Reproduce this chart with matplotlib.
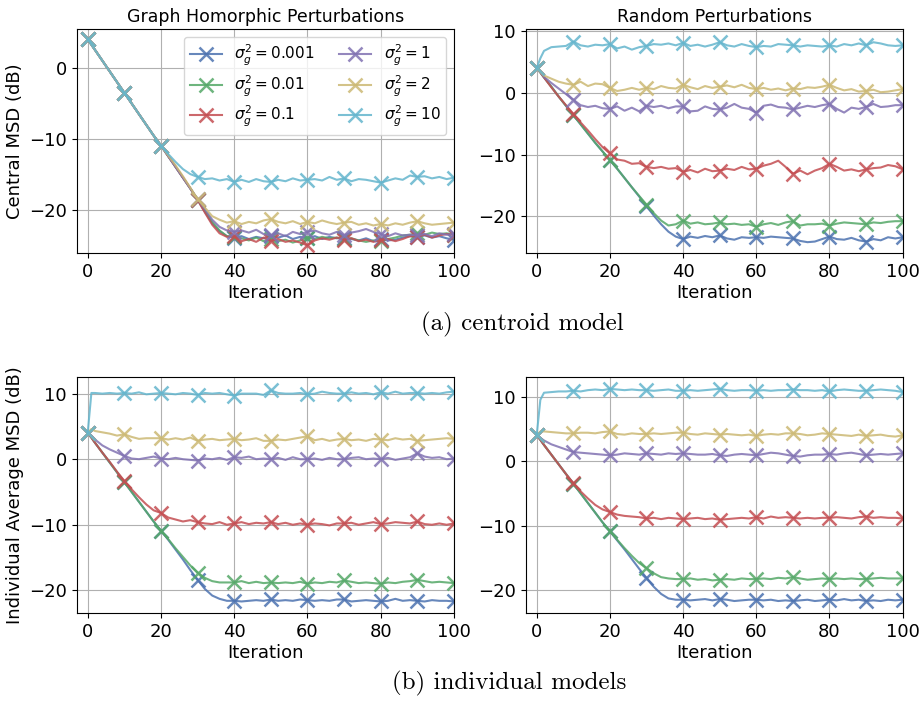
import matplotlib
matplotlib.use("Agg")
import matplotlib.pyplot as plt
import numpy as np

# iterations: 0, 1, then every 2 up to 100
iterations = [0, 1] + list(range(2, 101, 2))

labels = [r"$\sigma_g^2 = 0.001$", r"$\sigma_g^2 = 0.01$", r"$\sigma_g^2 = 0.1$",
          r"$\sigma_g^2 = 1$", r"$\sigma_g^2 = 2$", r"$\sigma_g^2 = 10$"]
colors = ["#4C72B0", "#55A868", "#C44E52", "#8172B2", "#CCB974", "#64B5CD"]

# ---------- (a) centroid model, graph homorphic perturbations ----------
gh_c_0001 = [4.0, 3.25,
             2.5, 1.0, -0.5, -2.0, -3.5,
             -5.0, -6.5, -8.0, -9.5, -10.9,
             -12.4, -13.9, -15.4, -16.9, -18.5,
             -20.2, -21.8, -22.9, -23.6, -23.8,
             -23.6, -24.0, -23.7, -23.9, -23.6,
             -23.8, -23.5, -24.0, -23.7, -23.9,
             -23.6, -24.0, -23.7, -23.9, -23.8,
             -24.0, -24.2, -23.9, -24.3, -24.0,
             -24.2, -24.1, -23.8, -23.6, -23.7,
             -23.5, -23.8, -23.6, -23.9, -24.1]
gh_c_001 = [4.0, 3.25,
            2.5, 1.0, -0.5, -2.0, -3.5,
            -5.0, -6.5, -8.0, -9.5, -10.9,
            -12.4, -13.9, -15.4, -16.9, -18.5,
            -20.0, -21.6, -22.8, -23.6, -23.7,
            -23.9, -24.2, -23.8, -24.3, -24.0,
            -24.3, -24.1, -24.5, -24.2, -23.8,
            -24.0, -23.7, -23.9, -23.8, -24.0,
            -23.9, -24.2, -24.4, -24.2, -24.3,
            -24.0, -23.8, -23.5, -23.4, -23.2,
            -23.4, -23.1, -23.3, -23.2, -23.4]
gh_c_01 = [4.0, 3.25,
           2.5, 1.0, -0.5, -2.0, -3.5,
           -5.0, -6.5, -8.0, -9.5, -10.9,
           -12.4, -13.9, -15.4, -16.9, -18.5,
           -20.3, -22.0, -23.2, -23.7, -23.6,
           -24.3, -24.0, -24.4, -23.8, -24.3,
           -24.0, -24.4, -24.2, -24.5, -24.9,
           -24.2, -23.9, -24.1, -23.8, -24.1,
           -23.9, -24.3, -24.1, -24.4, -24.2,
           -24.0, -24.3, -24.0, -23.6, -23.7,
           -23.4, -23.8, -23.5, -23.3, -23.4]
gh_c_1 = [4.0, 3.25,
          2.5, 1.0, -0.5, -2.0, -3.5,
          -5.0, -6.5, -8.0, -9.5, -10.9,
          -12.4, -13.9, -15.4, -16.9, -18.4,
          -19.8, -21.3, -22.3, -22.8, -23.0,
          -22.8, -23.1, -22.7, -23.3, -23.5,
          -23.2, -23.6, -23.0, -23.3, -23.0,
          -22.8, -23.2, -23.4, -23.0, -23.5,
          -23.1, -22.9, -22.6, -23.0, -23.3,
          -23.6, -23.2, -23.5, -23.4, -23.5,
          -23.3, -23.6, -23.2, -23.4, -23.3]
gh_c_2 = [4.0, 3.25,
          2.5, 1.0, -0.5, -2.0, -3.5,
          -5.0, -6.5, -8.0, -9.5, -10.9,
          -12.3, -13.7, -15.2, -16.8, -18.4,
          -19.6, -20.8, -21.3, -21.7, -21.5,
          -21.9, -21.6, -21.8, -21.4, -21.2,
          -21.6, -21.8, -21.5, -21.9, -21.6,
          -21.8, -21.4, -21.7, -21.9, -21.7,
          -21.6, -22.0, -21.8, -22.1, -21.9,
          -22.1, -21.8, -22.0, -21.7, -21.5,
          -21.8, -22.0, -21.9, -21.8, -21.7]
gh_c_10 = [4.0, 3.25,
           2.5, 1.0, -0.5, -2.0, -3.5,
           -5.0, -6.5, -8.0, -9.5, -10.9,
           -12.1, -13.2, -14.2, -14.9, -15.3,
           -15.6, -15.5, -15.8, -15.6, -16.0,
           -15.7, -16.0, -15.6, -15.9, -16.0,
           -15.7, -15.9, -15.5, -15.8, -15.7,
           -15.6, -15.8, -15.3, -15.7, -15.5,
           -15.9, -15.6, -15.7, -15.9, -16.1,
           -15.8, -15.5, -15.7, -15.1, -15.3,
           -15.2, -15.5, -15.3, -15.6, -15.4]

# ---------- (a) centroid model, random perturbations ----------
rp_c_0001 = [4.0, 3.3,
             2.5, 1.0, -0.6, -2.1, -3.6,
             -5.1, -6.6, -8.1, -9.5, -10.9,
             -12.3, -13.8, -15.3, -16.8, -18.3,
             -19.9, -21.3, -22.5, -23.3, -23.7,
             -23.3, -23.5, -23.2, -23.4, -23.1,
             -23.6, -23.8, -23.4, -23.5, -23.4,
             -23.5, -23.3, -23.4, -23.5, -23.6,
             -24.0, -24.2, -24.1, -23.7, -23.3,
             -23.7, -23.8, -23.5, -23.9, -24.1,
             -23.7, -23.9, -23.4, -23.6, -23.4]
rp_c_001 = [4.0, 3.3,
            2.5, 1.0, -0.6, -2.1, -3.6,
            -5.1, -6.6, -8.1, -9.5, -10.9,
            -12.3, -13.8, -15.3, -16.7, -18.1,
            -19.5, -20.7, -21.5, -21.3, -20.7,
            -21.2, -21.0, -21.3, -21.2, -21.0,
            -21.3, -21.2, -21.4, -21.3, -21.7,
            -21.3, -21.1, -21.4, -21.0, -20.8,
            -21.5, -21.3, -21.3, -21.2, -21.5,
            -21.2, -21.0, -21.1, -21.2, -21.3,
            -21.0, -21.1, -20.9, -20.8, -20.8]
rp_c_01 = [4.0, 3.3,
           2.5, 0.9, -0.6, -2.0, -3.4,
           -4.8, -6.1, -7.5, -8.8, -9.8,
           -10.8, -11.0, -11.5, -11.4, -12.0,
           -12.2, -12.0, -12.3, -12.2, -12.8,
           -12.5, -12.9, -12.3, -12.7, -12.6,
           -12.3, -12.5, -12.0, -12.4, -12.3,
           -11.8, -11.5, -11.0, -12.0, -13.1,
           -12.6, -13.2, -12.6, -12.2, -11.5,
           -12.0, -12.6, -12.4, -12.7, -12.4,
           -12.2, -12.1, -11.7, -11.9, -12.4]
rp_c_1 = [4.0, 3.4,
          2.6, 1.6, 0.7, -0.2, -1.1,
          -2.0, -2.3, -2.1, -2.5, -2.6,
          -2.2, -2.9, -2.4, -3.0, -2.1,
          -2.3, -2.1, -2.5, -2.2, -2.2,
          -3.0, -2.9, -2.2, -2.6, -2.7,
          -2.4, -1.8, -2.4, -2.6, -3.2,
          -2.1, -1.9, -2.3, -2.4, -2.7,
          -2.4, -2.1, -2.3, -2.0, -1.8,
          -2.6, -3.2, -2.4, -2.6, -2.3,
          -1.8, -2.3, -2.2, -2.0, -2.0]
rp_c_2 = [4.0, 3.4,
          2.8, 2.3, 1.8, 1.5, 1.3,
          1.8, 1.1, 1.5, 1.4, 0.8,
          0.3, 0.5, 0.8, 0.5, 0.8,
          0.6, 1.1, 0.8, 0.7, 1.3,
          0.9, 0.6, 1.1, 0.8, 1.0,
          1.2, 0.9, 1.3, 0.8, 0.6,
          0.8, 0.5, 0.7, 0.4, 0.7,
          0.6, 0.9, 0.8, 1.0, 1.3,
          0.8, 0.4, 0.6, 0.2, 0.3,
          0.5, 0.1, 0.2, 0.4, 0.6]
rp_c_10 = [4.0, 5.6,
           6.8, 7.4, 7.5, 7.6, 8.3,
           7.7, 7.5, 7.8, 7.7, 7.9,
           7.2, 7.5, 7.0, 7.4, 7.6,
           7.9, 7.8, 8.0, 7.7, 8.1,
           7.6, 7.8, 7.5, 7.8, 8.2,
           7.7, 7.5, 7.9, 7.6, 7.4,
           7.6, 7.5, 7.9, 7.8, 7.7,
           7.5, 7.7, 7.6, 7.5, 7.7,
           7.5, 7.9, 7.7, 8.0, 7.7,
           8.2, 8.0, 7.7, 7.6, 7.7]

# ---------- (b) individual models, graph homorphic perturbations ----------
gh_i_0001 = [4.0, 3.3,
             2.5, 1.0, -0.5, -2.0, -3.5,
             -5.0, -6.5, -8.0, -9.5, -10.9,
             -12.3, -13.8, -15.3, -16.9, -18.4,
             -19.8, -20.8, -21.3, -21.6, -21.6,
             -21.7, -21.6, -21.5, -21.6, -21.4,
             -21.6, -21.5, -21.6, -21.4, -21.5,
             -21.6, -21.5, -21.6, -21.4, -21.4,
             -21.7, -21.6, -21.5, -21.6, -21.7,
             -21.6, -21.3, -21.6, -21.5, -21.6,
             -21.7, -21.5, -21.6, -21.6, -21.7]
gh_i_001 = [4.0, 3.3,
            2.5, 1.0, -0.5, -2.0, -3.5,
            -5.0, -6.5, -8.0, -9.5, -10.9,
            -12.2, -13.6, -14.9, -16.2, -17.3,
            -18.1, -18.6, -18.8, -18.8, -18.8,
            -18.6, -18.9, -18.7, -18.9, -18.8,
            -18.9, -18.8, -18.9, -18.7, -19.0,
            -18.8, -18.9, -18.7, -18.8, -18.5,
            -18.7, -18.9, -18.8, -18.9, -19.0,
            -18.8, -18.9, -18.7, -18.6, -18.4,
            -18.6, -18.8, -18.7, -18.8, -18.9]
gh_i_01 = [4.0, 3.3,
           2.5, 1.0, -0.4, -1.9, -3.3,
           -4.6, -5.8, -6.9, -7.8, -8.2,
           -8.9, -9.2, -9.5, -9.3, -9.6,
           -9.8, -9.9, -9.6, -10.0, -9.8,
           -9.6, -9.9, -9.7, -9.8, -9.6,
           -9.9, -9.7, -10.0, -9.8, -10.0,
           -9.8, -9.9, -10.1, -9.8, -9.8,
           -9.7, -10.0, -9.8, -9.6, -9.9,
           -9.8, -9.6, -9.7, -9.8, -9.5,
           -9.9, -10.0, -9.8, -10.0, -9.8]
gh_i_1 = [4.0, 3.6,
          3.0, 2.1, 1.5, 1.0, 0.5,
          0.1, 0.0, 0.2, 0.4, 0.1,
          0.0, 0.2, 0.0, -0.1, -0.2,
          0.1, 0.0, 0.2, -0.1, 0.3,
          0.2, 0.4, 0.0, 0.1, 0.0,
          0.2, -0.1, 0.3, 0.0, 0.0,
          0.1, -0.1, 0.2, 0.0, 0.0,
          0.2, 0.3, 0.0, 0.1, 0.0,
          0.2, -0.1, 0.1, 0.3, 0.9,
          0.4, 0.2, 0.3, 0.0, 0.1]
gh_i_2 = [4.0, 4.6,
          4.3, 4.1, 3.9, 3.6, 3.8,
          3.4, 3.1, 3.2, 3.2, 3.2,
          3.0, 3.2, 3.0, 3.3, 2.8,
          3.0, 3.1, 2.9, 3.0, 3.1,
          2.9, 3.0, 3.2, 2.8, 2.8,
          3.0, 2.9, 3.1, 3.3, 3.5,
          2.9, 3.1, 2.8, 3.0, 3.1,
          2.9, 3.0, 2.8, 3.1, 3.0,
          2.9, 3.2, 3.0, 3.1, 2.8,
          2.9, 3.0, 3.1, 3.2, 3.1]
gh_i_10 = [4.0, 10.1,
           10.1, 10.0, 10.1, 10.0, 10.1,
           10.0, 10.2, 9.9, 10.0, 10.1,
           10.0, 9.9, 10.1, 10.0, 9.8,
           10.1, 10.0, 10.1, 9.9, 9.7,
           10.0, 10.0, 10.0, 9.8, 10.5,
           10.1, 10.0, 10.0, 10.1, 9.9,
           10.0, 10.3, 10.1, 10.0, 10.0,
           10.2, 10.0, 10.1, 9.9, 10.2,
           10.0, 10.3, 10.0, 10.1, 10.1,
           10.0, 10.1, 10.0, 10.2, 10.3]

# ---------- (b) individual models, random perturbations ----------
rp_i_0001 = [4.0, 3.3,
             2.5, 1.0, -0.5, -2.0, -3.5,
             -5.0, -6.5, -8.0, -9.5, -10.9,
             -12.3, -13.7, -15.2, -16.7, -18.1,
             -19.5, -20.6, -21.3, -21.5, -21.5,
             -21.6, -21.5, -21.4, -21.6, -21.4,
             -21.5, -21.7, -21.6, -21.5, -21.5,
             -21.6, -21.5, -21.7, -21.6, -21.7,
             -21.6, -21.5, -21.7, -21.6, -21.5,
             -21.6, -21.4, -21.6, -21.5, -21.7,
             -21.6, -21.7, -21.5, -21.6, -21.5]
rp_i_001 = [4.0, 3.3,
            2.5, 1.0, -0.5, -2.0, -3.5,
            -5.0, -6.5, -8.0, -9.5, -10.9,
            -12.2, -13.5, -14.7, -15.8, -16.6,
            -17.4, -18.0, -18.2, -18.3, -18.3,
            -18.2, -18.4, -18.3, -18.5, -18.4,
            -18.3, -18.4, -18.2, -18.3, -18.3,
            -18.2, -18.3, -18.1, -18.2, -18.0,
            -18.2, -18.4, -18.3, -18.2, -18.3,
            -18.2, -18.3, -18.2, -18.3, -18.3,
            -18.2, -18.1, -18.2, -18.2, -18.2]
rp_i_01 = [4.0, 3.3,
           2.5, 1.0, -0.5, -2.0, -3.4,
           -4.7, -5.8, -6.8, -7.5, -7.9,
           -8.3, -8.5, -8.6, -8.7, -8.9,
           -8.8, -9.0, -8.8, -8.9, -9.0,
           -8.9, -8.8, -9.0, -8.9, -9.1,
           -9.0, -8.9, -8.8, -8.9, -8.7,
           -8.9, -8.6, -8.8, -8.7, -8.8,
           -8.9, -8.8, -8.9, -8.8, -8.8,
           -8.7, -8.8, -8.9, -8.7, -8.6,
           -8.8, -8.7, -8.8, -8.8, -8.9]
rp_i_1 = [4.0, 3.6,
          3.2, 2.6, 2.2, 1.8, 1.4,
          1.3, 1.2, 1.1, 1.0, 0.9,
          1.0, 1.2, 1.1, 1.0, 1.2,
          1.1, 1.0, 1.2, 1.1, 1.2,
          1.1, 1.0, 1.0, 1.1, 0.9,
          0.8, 1.0, 1.1, 1.0, 0.9,
          1.1, 1.3, 1.2, 1.0, 0.8,
          0.7, 0.9, 1.0, 1.0, 1.1,
          1.0, 1.2, 1.3, 1.1, 0.9,
          1.0, 1.1, 1.0, 1.1, 1.2]
rp_i_2 = [4.0, 4.6,
          4.6, 4.5, 4.4, 4.3, 4.3,
          4.4, 4.4, 4.3, 4.5, 4.6,
          4.2, 4.1, 4.3, 4.2, 4.2,
          4.3, 4.2, 4.3, 4.4, 4.4,
          4.2, 4.1, 4.3, 4.2, 4.1,
          4.2, 4.1, 4.0, 4.1, 3.9,
          4.1, 4.2, 4.1, 4.3, 4.3,
          4.2, 4.0, 4.1, 4.3, 4.2,
          4.1, 4.0, 3.9, 4.1, 3.9,
          4.0, 4.1, 3.9, 3.8, 4.0]
rp_i_10 = [4.0, 9.5,
           10.6, 10.7, 10.8, 10.8, 10.9,
           10.8, 11.0, 11.1, 11.0, 11.2,
           11.1, 11.0, 11.1, 11.0, 11.0,
           10.9, 11.0, 11.1, 10.9, 10.9,
           11.0, 10.9, 11.0, 11.1, 11.2,
           11.0, 10.9, 11.0, 11.0, 10.9,
           11.0, 10.9, 11.0, 11.0, 11.1,
           11.0, 11.0, 10.9, 11.0, 10.8,
           11.0, 11.1, 11.0, 10.9, 10.9,
           11.0, 11.1, 11.0, 10.9, 10.7]

panels = [
    ([gh_c_0001, gh_c_001, gh_c_01, gh_c_1, gh_c_2, gh_c_10], (-26.0, 5.4), [0, -10, -20]),
    ([rp_c_0001, rp_c_001, rp_c_01, rp_c_1, rp_c_2, rp_c_10], (-26.0, 10.3), [10, 0, -10, -20]),
    ([gh_i_0001, gh_i_001, gh_i_01, gh_i_1, gh_i_2, gh_i_10], (-23.5, 12.5), [10, 0, -10, -20]),
    ([rp_i_0001, rp_i_001, rp_i_01, rp_i_1, rp_i_2, rp_i_10], (-23.6, 13.0), [10, 0, -10, -20]),
]

fig = plt.figure(figsize=(9.21, 7.02), dpi=100)
rects = [
    [0.0833, 0.6392, 0.4096, 0.3191],
    [0.5708, 0.6392, 0.4093, 0.3191],
    [0.0833, 0.1264, 0.4096, 0.3362],
    [0.5708, 0.1264, 0.4093, 0.3362],
]
x = np.array(iterations)
mark_idx = [i for i, v in enumerate(iterations) if v % 10 == 0]

axes = []
for k, (series, ylim, yticks) in enumerate(panels):
    ax = fig.add_axes(rects[k])
    for s, c, lab in zip(series, colors, labels):
        ax.plot(x, s, color=c, lw=1.5, alpha=0.85, marker="x", markersize=10,
                markeredgewidth=1.8, markevery=mark_idx, label=lab)
    ax.set_xlim(-3, 100)
    ax.set_ylim(*ylim)
    ax.set_xticks([0, 20, 40, 60, 80, 100])
    ax.set_yticks(yticks)
    ax.grid(True, color="#b0b0b0", lw=0.8)
    ax.set_axisbelow(True)
    ax.tick_params(labelsize=13)
    ax.set_xlabel("Iteration", fontsize=13, labelpad=2)
    axes.append(ax)

axes[0].set_title("Graph Homorphic Perturbations", fontsize=12.5, pad=5)
axes[1].set_title("Random Perturbations", fontsize=12.5, pad=5)
axes[0].set_ylabel("Central MSD (dB)", fontsize=13)
axes[2].set_ylabel("Individual Average MSD (dB)", fontsize=13)
axes[0].legend(ncol=2, loc="upper right", fontsize=11, handlelength=2.1,
               labelspacing=0.35, columnspacing=1.6, borderaxespad=0.5,
               framealpha=0.8)

fig.text(0.567, 0.5385, "(a) centroid model", family="cmr10", fontsize=18,
         ha="center", va="center")
fig.text(0.553, 0.026, "(b) individual models", family="cmr10", fontsize=18,
         ha="center", va="center")

fig.savefig("out.png", dpi=100)
